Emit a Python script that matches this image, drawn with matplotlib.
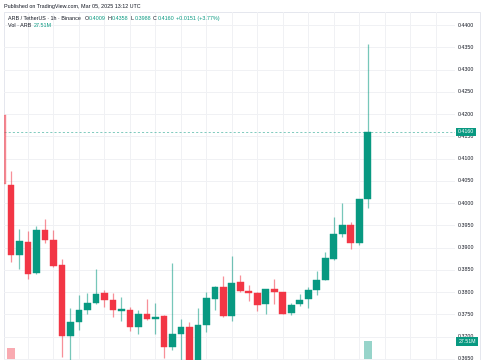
import matplotlib
matplotlib.use('Agg')
import matplotlib.pyplot as plt
import matplotlib.transforms as mtransforms
from matplotlib.patches import Rectangle

plt.rcParams['font.family'] = ['Liberation Sans', 'DejaVu Sans']

# hourly ARB/USDT candles, first one is cut off by the left edge
opens = [0.4198, 0.4041, 0.3883, 0.3913, 0.3842, 0.3939, 0.3918, 0.3860, 0.3702, 0.3733,
         0.3760, 0.3775, 0.3797, 0.3783, 0.3758, 0.3760, 0.3722, 0.3750, 0.3739, 0.3746,
         0.3677, 0.3706, 0.3721, 0.3630, 0.3725, 0.3784, 0.3811, 0.3746, 0.3822, 0.3803,
         0.3799, 0.3773, 0.3806, 0.3800, 0.3752, 0.3773, 0.3784, 0.3804, 0.3828, 0.3874,
         0.3930, 0.3951, 0.3910, 0.4009]
highs = [0.4200, 0.4072, 0.3942, 0.3937, 0.3948, 0.3964, 0.3939, 0.3874, 0.3764, 0.3793,
         0.3798, 0.3851, 0.3804, 0.3799, 0.3790, 0.3766, 0.3760, 0.3784, 0.3775, 0.3748,
         0.3865, 0.3739, 0.3732, 0.3765, 0.3800, 0.3814, 0.3836, 0.3881, 0.3838, 0.3816,
         0.3800, 0.3807, 0.3829, 0.3801, 0.3776, 0.3796, 0.3811, 0.3847, 0.3891, 0.3969,
         0.4001, 0.3957, 0.4009, 0.4358]
lows = [0.4040, 0.3867, 0.3852, 0.3829, 0.3841, 0.3911, 0.3857, 0.3654, 0.3640, 0.3715,
        0.3751, 0.3774, 0.3767, 0.3745, 0.3736, 0.3713, 0.3706, 0.3737, 0.3706, 0.3651,
        0.3670, 0.3630, 0.3615, 0.3620, 0.3710, 0.3760, 0.3743, 0.3736, 0.3801, 0.3781,
        0.3757, 0.3750, 0.3773, 0.3750, 0.3749, 0.3769, 0.3765, 0.3793, 0.3828, 0.3872,
        0.3924, 0.3897, 0.3905, 0.3988]
closes = [0.4043, 0.3883, 0.3914, 0.3841, 0.3939, 0.3918, 0.3859, 0.3701, 0.3733, 0.3760,
          0.3775, 0.3796, 0.3783, 0.3760, 0.3762, 0.3722, 0.3750, 0.3739, 0.3745, 0.3676,
          0.3706, 0.3722, 0.3628, 0.3726, 0.3786, 0.3811, 0.3746, 0.3820, 0.3802, 0.3798,
          0.3772, 0.3806, 0.3800, 0.3751, 0.3770, 0.3783, 0.3804, 0.3828, 0.3876, 0.3930,
          0.3951, 0.3910, 0.4009, 0.4160]
# volume in millions (only the two biggest reach into the visible part)
volumes = [14.0, 24.4, 9.5, 11.2, 8.7, 6.3, 7.9, 17.5, 12.8, 8.1,
           5.2, 6.9, 4.8, 5.5, 4.1, 6.7, 5.9, 4.6, 3.9, 10.4,
           12.1, 9.8, 13.6, 15.2, 10.9, 7.4, 8.8, 9.6, 5.1, 3.8,
           4.9, 5.3, 4.2, 6.1, 4.4, 3.7, 5.0, 6.8, 9.1, 12.4,
           11.3, 8.2, 10.6, 27.51]
price_ticks = [0.4400, 0.4350, 0.4300, 0.4250, 0.4200, 0.4150, 0.4100, 0.4050, 0.4000,
               0.3950, 0.3900, 0.3850, 0.3800, 0.3750, 0.3700, 0.3650]
last_price = 0.4160
last_volume = '27.51M'

UP = '#089981'
DOWN = '#F23645'
GRID = '#F0F1F4'
TXT = '#131722'
W, H = 485, 360

fig = plt.figure(figsize=(W / 100, H / 100), dpi=100)
fig.patch.set_facecolor('white')

# pane without the price scale: x 4..455 px, y 12..360 px
ax = fig.add_axes([4 / W, 0, (455 - 4) / W, (360 - 12) / H])
axv = ax.twinx()
ax.set_zorder(axv.get_zorder() + 1)
ax.patch.set_visible(False)

step = 8.493
ax.set_xlim((4 - 2.5) / step, (455 - 2.5) / step)
ax.set_ylim(0.36474, 0.44293)
axv.set_ylim(18.65, 180.9)

for a in (ax, axv):
    a.axis('off')

# grid
for p in price_ticks:
    ax.axhline(p, color=GRID, lw=0.7, zorder=0)
for k in range(3, 54, 3):
    ax.axvline(k, color=GRID, lw=0.7, zorder=0)

# volume
idx = list(range(len(opens)))
vcol = [UP if c >= o else DOWN for o, c in zip(opens, closes)]
axv.bar(idx, volumes, width=0.9, color=vcol, alpha=0.42, linewidth=0)

# candles (the half hidden first one looks faded in the original)
for k in idx:
    o, h, l, c = opens[k], highs[k], lows[k], closes[k]
    col = UP if c >= o else DOWN
    fade = 0.55 if k == 0 else 1.0
    ax.vlines(k, l, h, color=col, lw=0.9, alpha=0.55 * fade, zorder=2)
    body = max(abs(c - o), 0.00012)
    ax.bar(k, body, bottom=min(o, c), width=0.78, color=col, edgecolor=col,
           linewidth=0.3, alpha=fade, zorder=3)

ax.axhline(last_price, color=UP, lw=0.6, ls=(0, (2.5, 2.5)), alpha=0.6, zorder=1)

# price scale labels
tr = mtransforms.blended_transform_factory(fig.transFigure, ax.transData)
for p in price_ticks:
    ax.text(474 / W, p, '%.4f' % p, transform=tr, ha='right', va='center',
            fontsize=3.8, color=TXT, clip_on=False, zorder=5)
ax.text(466 / W, last_price, '%.4f' % last_price, transform=tr, ha='center', va='center',
        fontsize=3.8, color='white', clip_on=False, zorder=6,
        bbox=dict(boxstyle='square,pad=0.35', fc=UP, ec=UP, lw=0))
fig.text(467 / W, 1 - 341.5 / H, last_volume, ha='center', va='center',
         fontsize=3.8, color='white', zorder=6,
         bbox=dict(boxstyle='square,pad=0.35', fc=UP, ec=UP, lw=0))

# pane frame
fig.patches.append(Rectangle((4 / W, -0.01), (480 - 4) / W, 1.01 - 12 / H,
                             transform=fig.transFigure, fill=False,
                             ec='#E0E3EB', lw=0.6, zorder=0))

# header
fig.text(4 / W, 1 - 6.5 / H, 'Published on TradingView.com, Mar 05, 2025 13:12 UTC',
         fontsize=3.9, color=TXT, va='center', ha='left')

r = fig.canvas.get_renderer()


def put_row(x, y, parts):
    for s, col, gap in parts:
        t = fig.text(x / W, 1 - y / H, s, fontsize=3.9, color=col, va='center', ha='left')
        bb = t.get_window_extent(r)
        x = bb.x1 + gap


put_row(8, 18.3, [('ARB / TetherUS · 1h · Binance', TXT, 3.5),
                  ('O', TXT, 0.3), ('0.4009', UP, 2.2),
                  ('H', TXT, 0.3), ('0.4358', UP, 2.2),
                  ('L', TXT, 0.3), ('0.3988', UP, 2.2),
                  ('C', TXT, 0.3), ('0.4160', UP, 2.2),
                  ('+0.0151 (+3.77%)', UP, 0)])
put_row(8, 25.5, [('Vol · ARB', TXT, 3.0), (last_volume, UP, 0)])

fig.savefig('out.png', dpi=100)
